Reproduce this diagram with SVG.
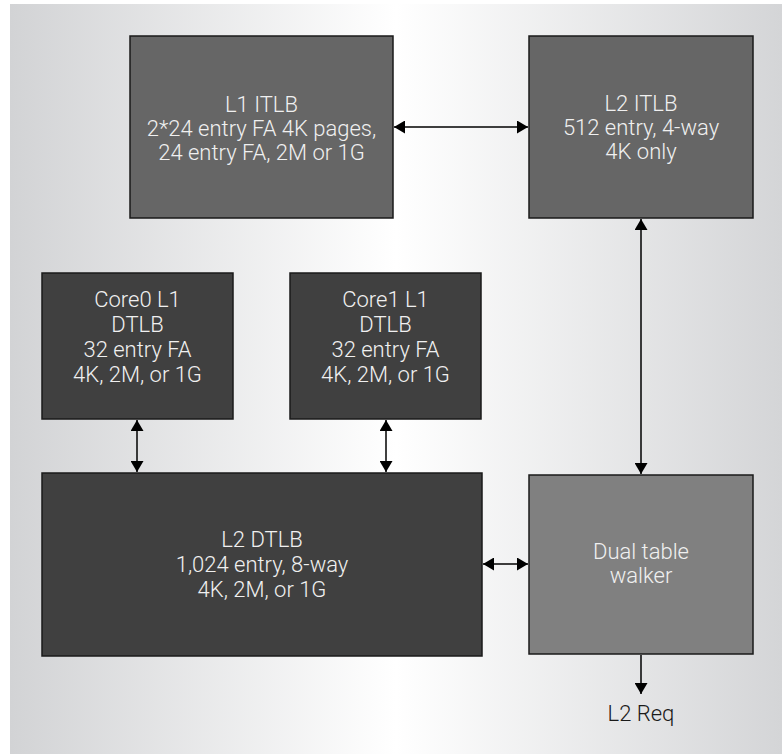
<svg xmlns="http://www.w3.org/2000/svg" width="782" height="754" viewBox="0 0 782 754">
<defs>
<linearGradient id="bg" x1="0" y1="0" x2="1" y2="0">
<stop offset="0" stop-color="#d2d3d5"/>
<stop offset="0.5" stop-color="#ffffff"/>
<stop offset="1" stop-color="#d4d5d7"/>
</linearGradient>
<marker id="ah" viewBox="0 0 11 13" refX="11" refY="6.5" markerWidth="11" markerHeight="13" markerUnits="userSpaceOnUse" orient="auto-start-reverse">
<path d="M0,0 L11,6.5 L0,13 z" fill="#000"/>
</marker>
<style>
.box{stroke:#1a1a1a;stroke-width:1.5}
.mid{fill:#666666}
.dark{fill:#404040}
.light{fill:#808080}
.t{font-family:Roboto,"Liberation Sans",Arial,sans-serif;font-weight:300;font-size:22px;fill:#f0f0f0;text-anchor:middle}
.lbl{font-family:Roboto,"Liberation Sans",Arial,sans-serif;font-weight:300;font-size:22px;fill:#1a1a1a;text-anchor:middle}
.c{stroke:#000;stroke-width:1.5;fill:none}
</style>
</defs>
<rect x="10" y="4" width="772" height="750" fill="url(#bg)"/>
<g id="l1itlb">
<rect class="box mid" x="130" y="36" width="263" height="182"/>
<text class="t" x="261.5" y="112">L1 ITLB</text>
<text class="t" x="261.5" y="136">2*24 entry FA 4K pages,</text>
<text class="t" x="261.5" y="160">24 entry FA, 2M or 1G</text>
</g>
<g id="l2itlb">
<rect class="box mid" x="529" y="36" width="224" height="182"/>
<text class="t" x="641" y="111">L2 ITLB</text>
<text class="t" x="641" y="135">512 entry, 4-way</text>
<text class="t" x="641" y="159">4K only</text>
</g>
<g id="core0">
<rect class="box dark" x="42" y="273" width="191" height="146"/>
<text class="t" x="137.5" y="307">Core0 L1</text>
<text class="t" x="137.5" y="332">DTLB</text>
<text class="t" x="137.5" y="357">32 entry FA</text>
<text class="t" x="137.5" y="382">4K, 2M, or 1G</text>
</g>
<g id="core1">
<rect class="box dark" x="290" y="273" width="191" height="146"/>
<text class="t" x="385.5" y="307">Core1 L1</text>
<text class="t" x="385.5" y="332">DTLB</text>
<text class="t" x="385.5" y="357">32 entry FA</text>
<text class="t" x="385.5" y="382">4K, 2M, or 1G</text>
</g>
<g id="l2dtlb">
<rect class="box dark" x="42" y="473" width="440" height="183"/>
<text class="t" x="262" y="547">L2 DTLB</text>
<text class="t" x="262" y="572">1,024 entry, 8-way</text>
<text class="t" x="262" y="597">4K, 2M, or 1G</text>
</g>
<g id="walker">
<rect class="box light" x="529" y="475" width="224" height="179"/>
<text class="t" x="641" y="559">Dual table</text>
<text class="t" x="641" y="583">walker</text>
</g>
<g id="l2req">
<text class="lbl" x="641" y="721">L2 Req</text>
</g>
<g id="connectors">
<line class="c" x1="394" y1="127" x2="528" y2="127" marker-start="url(#ah)" marker-end="url(#ah)"/>
<line class="c" x1="641" y1="219" x2="641" y2="474" marker-start="url(#ah)" marker-end="url(#ah)"/>
<line class="c" x1="137" y1="420" x2="137" y2="472" marker-start="url(#ah)" marker-end="url(#ah)"/>
<line class="c" x1="386" y1="420" x2="386" y2="472" marker-start="url(#ah)" marker-end="url(#ah)"/>
<line class="c" x1="483" y1="564" x2="528" y2="564" marker-start="url(#ah)" marker-end="url(#ah)"/>
<line class="c" x1="641" y1="655" x2="641" y2="694" marker-end="url(#ah)"/>
</g>
</svg>
